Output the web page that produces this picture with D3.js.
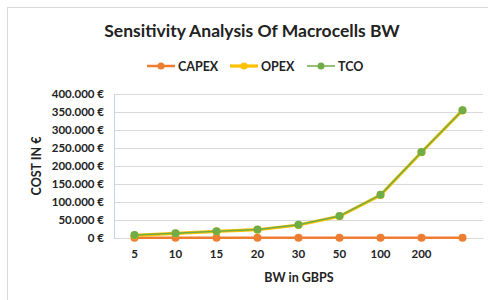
<!DOCTYPE html>
<html>
<head>
<meta charset="utf-8">
<script src="https://cdn.jsdelivr.net/npm/d3@7"></script>
<style>
  body { margin: 0; background: #fff; }
  text { font-family: Lato, "Open Sans", sans-serif; fill: #222; }
</style>
</head>
<body>
<svg id="chart" width="488" height="300"></svg>
<script>
// bandwidth steps (the last category has no label in the original)
var categories = ["5", "10", "15", "20", "30", "50", "100", "200", ""];
var capex = [800, 800, 800, 800, 800, 800, 800, 800, 800];
var opex  = [7200, 12600, 18200, 23000, 36200, 60200, 119200, 238200, 354200];
var tco   = [8000, 13400, 19000, 23800, 37000, 61000, 120000, 239000, 355000];
var yTicks = [0, 50000, 100000, 150000, 200000, 250000, 300000, 350000, 400000];

var series = [
  { name: "CAPEX", values: capex, color: "#ed7d31", w: 2.5 },
  { name: "OPEX",  values: opex,  color: "#ffc000", w: 3.2 },
  { name: "TCO",   values: tco,   color: "#70ad47", w: 1.5 }
];

var svg = d3.select("#chart");
var margin = { left: 114, right: 5, top: 94, bottom: 62 };
var width = 488 - margin.left - margin.right,
    height = 300 - margin.top - margin.bottom;

// outer chart frame
svg.append("rect")
  .attr("x", 7.5).attr("y", 7.5)
  .attr("width", 500).attr("height", 320)
  .attr("fill", "#fff")
  .attr("stroke", "#d9d9d9");

svg.append("text")
  .attr("x", 252).attr("y", 37)
  .attr("text-anchor", "middle")
  .style("font-size", "17.5px").style("font-weight", "bold")
  .text("Sensitivity Analysis Of Macrocells BW");

var x = d3.scaleBand().domain(d3.range(categories.length)).range([0, width]);
var y = d3.scaleLinear().domain([0, 400000]).range([height, 0]);

var g = svg.append("g").attr("transform", "translate(" + margin.left + "," + margin.top + ")");

// gridlines
g.append("g")
  .call(d3.axisLeft(y).tickValues(yTicks).tickSize(-width).tickFormat(""))
  .call(function(s) {
    s.select(".domain").remove();
    s.selectAll("line").attr("stroke", "#d9d9d9");
  });

// y axis
var fmt = function(d) { return d3.format(",")(d).replace(/,/g, ".") + " €"; };
g.append("g")
  .call(d3.axisLeft(y).tickValues(yTicks).tickSize(0).tickPadding(10).tickFormat(fmt))
  .call(function(s) {
    s.select(".domain").attr("stroke", "#c5d3ea");
    s.selectAll("text").style("font-size", "11.5px").style("font-weight", "bold")
      .style("fill", "#222").style("font-family", "Lato, sans-serif");
  });

// x axis
g.append("g")
  .attr("transform", "translate(0," + height + ")")
  .call(d3.axisBottom(x).tickSize(0).tickPadding(12).tickFormat(function(i) { return categories[i]; }))
  .call(function(s) {
    s.select(".domain").attr("stroke", "#d9d9d9");
    s.selectAll("text").style("font-size", "11.5px").style("font-weight", "bold")
      .style("fill", "#222").style("font-family", "Lato, sans-serif");
  });

svg.append("text")
  .attr("x", 299).attr("y", 282)
  .attr("text-anchor", "middle")
  .style("font-size", "12.5px").style("font-weight", "bold")
  .text("BW in GBPS");

svg.append("text")
  .attr("transform", "translate(41,166) rotate(-90)")
  .attr("text-anchor", "middle")
  .style("font-size", "12.5px").style("font-weight", "bold")
  .text("COST IN €");

var line = d3.line()
  .x(function(d, i) { return x(i) + x.bandwidth() / 2; })
  .y(function(d) { return y(d); });

series.forEach(function(s) {
  g.append("path")
    .datum(s.values)
    .attr("fill", "none")
    .attr("stroke", s.color)
    .attr("stroke-width", s.w)
    .attr("d", line);
  g.selectAll(null)
    .data(s.values)
    .enter().append("circle")
    .attr("cx", function(d, i) { return x(i) + x.bandwidth() / 2; })
    .attr("cy", function(d) { return y(d); })
    .attr("r", 4)
    .attr("fill", s.color);
});

// legend
var legendX = [147, 230, 307];
var lg = svg.append("g");
series.forEach(function(s, i) {
  var item = lg.append("g").attr("transform", "translate(" + legendX[i] + ",66)");
  item.append("line").attr("x1", 0).attr("x2", 28)
    .attr("stroke", s.color).attr("stroke-width", s.w);
  item.append("circle").attr("cx", 14).attr("r", 3.5).attr("fill", s.color);
  item.append("text").attr("x", 31).attr("y", 4.5)
    .style("font-size", "12.5px").style("font-weight", "bold")
    .text(s.name);
});
</script>
</body>
</html>
